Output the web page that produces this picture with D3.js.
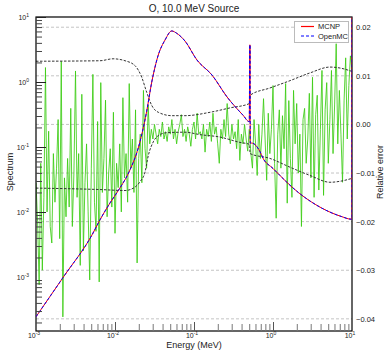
<!DOCTYPE html>
<html>
<head>
<meta charset="utf-8">
<script src="https://cdn.jsdelivr.net/npm/d3@7"></script>
<style>
  body { margin: 0; background: #fff; }
  svg { display: block; font-family: "Liberation Sans", Arial, sans-serif; }
</style>
</head>
<body>
<svg id="chart" width="386" height="355"></svg>
<script>
// spectrum, energy in MeV
const specEnergy = [0.001, 0.00222, 0.00513, 0.00646, 0.00865, 0.0110, 0.0155, 0.0197, 0.0251, 0.0292,
  0.0353, 0.0430, 0.0522, 0.0604, 0.0769, 0.109, 0.169, 0.262, 0.417, 0.501,
  0.508, 0.513, 0.515, 0.537, 0.684, 0.746, 1.0, 2.09, 4.14, 7.41, 9.77, 9.99, 10];
const mcnpSpectrum = [2.45e-4, 1.0e-3, 4.47e-3, 7.6e-3, 1.38e-2, 0.0214, 0.0447, 0.0966, 0.347, 1.0,
  2.60, 4.43, 6.10, 5.62, 4.27, 2.18, 1.28, 0.589, 0.309, 0.245,
  3.72, 3.72, 0.115, 0.115, 0.085, 0.0676, 0.0468, 0.0200, 0.0115, 0.0085, 0.00776, 0.00776, 40];
const openmcSpectrum = [2.45e-4, 1.0e-3, 4.47e-3, 7.6e-3, 1.38e-2, 0.0214, 0.0447, 0.0966, 0.347, 1.0,
  2.60, 4.43, 6.10, 5.62, 4.27, 2.18, 1.28, 0.589, 0.309, 0.245,
  3.72, 3.72, 0.115, 0.115, 0.085, 0.0676, 0.0468, 0.0200, 0.0115, 0.0085, 0.00776, 0.00776, 40];

// statistical uncertainty band (right axis)
const upperEnergy = [0.001, 0.00646, 0.00944, 0.0134, 0.0179, 0.0218, 0.0252, 0.0292, 0.0353, 0.0522,
  0.0769, 0.160, 0.286, 0.505, 0.513, 0.916, 1.64, 2.94, 5.27, 7.05, 10];
const upperSigma = [0.0130, 0.0131, 0.0135, 0.0131, 0.0121, 0.0097, 0.0066, 0.0039, 0.0025, 0.0018,
  0.0018, 0.0025, 0.0034, 0.0043, 0.0060, 0.0075, 0.0090, 0.0106, 0.0118, 0.0116, 0.0109];
const lowerEnergy = [0.001, 0.00646, 0.0134, 0.0179, 0.0207, 0.0240, 0.0264, 0.0305, 0.0353, 0.0451,
  0.0769, 0.119, 0.213, 0.382, 0.505, 0.513, 0.916, 1.64, 2.94, 5.27, 7.05, 10];
const lowerSigma = [-0.0131, -0.0134, -0.0136, -0.0129, -0.0118, -0.0098, -0.0064, -0.0036, -0.0023, -0.0017,
  -0.0016, -0.0021, -0.0026, -0.0037, -0.0041, -0.0060, -0.0070, -0.0088, -0.0105, -0.0119, -0.0117, -0.0111];

// relative error per bin, bins at log10(E) = -3, -2.98, ... 1
const relError = [
  -0.012, -0.020, -0.033, -0.008, -0.030, -0.015, 0.0117, -0.018, -0.0014, -0.021,
  -0.0244, -0.006, -0.016, -0.009, 0.001, -0.0235, 0.013, -0.0396, -0.011, -0.019,
  -0.007, -0.017, 0.0033, -0.021, -0.010, 0.011, -0.015, -0.006, -0.029, 0.0062,
  -0.026, -0.012, -0.004, -0.018, -0.032, -0.009, 0.0103, -0.016, -0.022, 0.0006,
  -0.0324, 0.0086, -0.014, -0.007, 0.005, -0.019, -0.010, -0.005, -0.017, 0.0025,
  -0.0224, -0.008, -0.013, -0.004, -0.018, 0.0055, -0.011, -0.006, -0.016, 0.0084,
  -0.009, -0.003, -0.014, 0.003, -0.0285, -0.007, -0.002, -0.012, 0.007, -0.005,
  -0.009, 0.004, -0.004, -0.001, -0.003, 0.000, -0.002, -0.004, -0.001, -0.0025,
  0.0005, -0.003, -0.0015, -0.0035, -0.0005, -0.002, 0.001, -0.003, -0.001, -0.004,
  -0.0015, 0.000, 0.002, -0.0025, -0.001, -0.0035, -0.0005, -0.002, -0.0045, -0.001,
  0.0005, -0.003, 0.0023, -0.002, -0.0015, -0.003, 0.000, -0.0057, -0.001, -0.0025,
  0.0005, -0.0035, 0.0023, -0.002, -0.0005, -0.004, -0.008, -0.001, -0.003, 0.001,
  -0.0025, 0.0043, -0.002, -0.004, 0.000, -0.003, -0.0015, -0.005, 0.001, -0.0074,
  -0.002, -0.004, 0.000, -0.003, -0.0055, -0.001, -0.006, -0.009, 0.001, -0.004,
  -0.0105, 0.000, -0.007, -0.002, 0.0053, -0.003, -0.0115, 0.0023, -0.006, -0.001,
  0.0080, -0.008, -0.0193, -0.002, 0.003, -0.009, 0.0018, -0.005, 0.0084, -0.0162,
  0.0049, -0.007, -0.015, 0.0070, -0.004, 0.0043, -0.010, -0.002, -0.021, 0.001,
  0.0033, -0.008, -0.003, 0.0064, -0.011, 0.0097, -0.015, 0.002, 0.0060, -0.0135,
  -0.001, 0.0111, -0.0146, 0.003, 0.0086, -0.008, 0.001, 0.0111, -0.006, 0.004,
  0.0166, -0.004, 0.007, -0.002, -0.0119, 0.005, 0.0137, -0.003, 0.008, 0.0141,
  0.0111
];
const relErrorEnergy = relError.map((d, i) => Math.pow(10, -3 + i * 0.02));

const rightTicks = [0.02, 0.01, 0.0, -0.01, -0.02, -0.03, -0.04];
const decadeTicks = [1e-3, 1e-2, 1e-1, 1, 10];

const margin = { top: 17, right: 34, bottom: 24, left: 36 };
const width = 386;
const height = 355;

const svg = d3.select('#chart');
svg.append('rect').attr('width', width).attr('height', height).attr('fill', '#fff');

const x = d3.scaleLog()
  .domain([1e-3, 10])
  .range([margin.left, width - margin.right]);

const yLeft = d3.scaleLog()
  .domain([Math.pow(10, -3.83), 10])
  .range([height - margin.bottom, margin.top]);

const yRight = d3.scaleLinear()
  .domain([-0.0425, 0.0221])
  .range([height - margin.bottom, margin.top]);

const plotW = width - margin.left - margin.right;
const plotH = height - margin.top - margin.bottom;

svg.append('clipPath').attr('id', 'plot-clip')
  .append('rect')
  .attr('x', margin.left)
  .attr('y', margin.top)
  .attr('width', plotW)
  .attr('height', plotH);

// grid lines at right axis ticks
svg.append('g')
  .selectAll('line')
  .data(rightTicks)
  .join('line')
  .attr('x1', margin.left)
  .attr('x2', width - margin.right)
  .attr('y1', d => yRight(d))
  .attr('y2', d => yRight(d))
  .attr('stroke', '#c4c4c4')
  .attr('stroke-width', 1)
  .attr('stroke-dasharray', '3,2');

const plot = svg.append('g').attr('clip-path', 'url(#plot-clip)');

// relative error
const errLine = d3.line()
  .x((d, i) => x(relErrorEnergy[i]))
  .y(d => yRight(d));

plot.append('path')
  .datum(relError)
  .attr('fill', 'none')
  .attr('stroke', '#3ccc14')
  .attr('stroke-width', 1)
  .attr('stroke-opacity', 0.85)
  .attr('d', errLine);

// uncertainty band
const bandLine = energies => d3.line()
  .x((d, i) => x(energies[i]))
  .y(d => yRight(d))
  .curve(d3.curveMonotoneX);

plot.append('path')
  .datum(upperSigma)
  .attr('fill', 'none')
  .attr('stroke', '#333')
  .attr('stroke-width', 1)
  .attr('stroke-dasharray', '2.5,1.5')
  .attr('d', bandLine(upperEnergy));

plot.append('path')
  .datum(lowerSigma)
  .attr('fill', 'none')
  .attr('stroke', '#333')
  .attr('stroke-width', 1)
  .attr('stroke-dasharray', '2.5,1.5')
  .attr('d', bandLine(lowerEnergy));

// frame
svg.append('rect')
  .attr('x', margin.left)
  .attr('y', margin.top)
  .attr('width', plotW)
  .attr('height', plotH)
  .attr('fill', 'none')
  .attr('stroke', '#000')
  .attr('stroke-width', 1.2);

// spectra
const specLine = d3.line()
  .x((d, i) => x(specEnergy[i]))
  .y(d => yLeft(d))
  .curve(d3.curveMonotoneX);

const specClip = svg.append('g').attr('clip-path', 'url(#plot-clip)');

specClip.append('path')
  .datum(mcnpSpectrum)
  .attr('fill', 'none')
  .attr('stroke', '#ff0000')
  .attr('stroke-width', 1)
  .attr('d', specLine);

specClip.append('path')
  .datum(openmcSpectrum)
  .attr('fill', 'none')
  .attr('stroke', '#0000ff')
  .attr('stroke-width', 1)
  .attr('stroke-dasharray', '3,2')
  .attr('d', specLine);

// left axis ticks (inside)
const minorLeft = [];
for (let e = -4; e <= 0; e++) {
  for (let k = 2; k <= 9; k++) {
    const v = k * Math.pow(10, e);
    if (v >= yLeft.domain()[0] && v <= 10) minorLeft.push(v);
  }
}
const minorX = [];
for (let e = -3; e <= 0; e++) {
  for (let k = 2; k <= 9; k++) minorX.push(k * Math.pow(10, e));
}

svg.append('g')
  .attr('transform', `translate(${margin.left},0)`)
  .call(d3.axisRight(yLeft).tickValues(minorLeft).tickSize(6).tickFormat(''))
  .call(g => g.select('.domain').remove())
  .call(g => g.selectAll('line').attr('stroke', '#444'));

svg.append('g')
  .attr('transform', `translate(${margin.left},0)`)
  .call(d3.axisRight(yLeft).tickValues(decadeTicks.slice(1)).tickSize(10).tickFormat(''))
  .call(g => g.select('.domain').remove())
  .call(g => g.selectAll('line').attr('stroke', '#222'));

// bottom axis ticks (inside)
svg.append('g')
  .attr('transform', `translate(0,${height - margin.bottom})`)
  .call(d3.axisTop(x).tickValues(minorX).tickSize(7).tickFormat(''))
  .call(g => g.select('.domain').remove())
  .call(g => g.selectAll('line').attr('stroke', '#777'));

svg.append('g')
  .attr('transform', `translate(0,${height - margin.bottom})`)
  .call(d3.axisTop(x).tickValues(decadeTicks.slice(1, 4)).tickSize(9).tickFormat(''))
  .call(g => g.select('.domain').remove())
  .call(g => g.selectAll('line').attr('stroke', '#555'));

// power-of-ten labels
const expOf = d => Math.round(Math.log10(d));

const leftLabels = svg.append('g')
  .selectAll('text')
  .data(decadeTicks)
  .join('text')
  .attr('x', 29)
  .attr('y', d => yLeft(d) + 2.5)
  .attr('text-anchor', 'end')
  .attr('font-size', 7)
  .attr('fill', '#222')
  .text('10');
leftLabels.append('tspan')
  .attr('dy', -3)
  .attr('font-size', 5)
  .text(d => expOf(d));

const bottomLabels = svg.append('g')
  .selectAll('text')
  .data(decadeTicks)
  .join('text')
  .attr('x', d => x(d) - 2)
  .attr('y', 338)
  .attr('text-anchor', 'middle')
  .attr('font-size', 7)
  .attr('fill', '#222')
  .text('10');
bottomLabels.append('tspan')
  .attr('dy', -3)
  .attr('font-size', 5)
  .text(d => expOf(d));

// right axis labels
svg.append('g')
  .attr('transform', `translate(${width - margin.right},0)`)
  .call(d3.axisRight(yRight).tickValues(rightTicks).tickSize(0).tickPadding(4).tickFormat(d3.format('.2f')))
  .call(g => g.select('.domain').remove())
  .call(g => g.selectAll('text').attr('font-size', 7.5).attr('fill', '#222')
    .attr('font-family', '"Liberation Sans", Arial, sans-serif'));

// titles
svg.append('text')
  .attr('x', 194)
  .attr('y', 12)
  .attr('text-anchor', 'middle')
  .attr('font-size', 10)
  .attr('fill', '#222')
  .text('O, 10.0 MeV Source');

svg.append('text')
  .attr('x', 194)
  .attr('y', 348)
  .attr('text-anchor', 'middle')
  .attr('font-size', 9)
  .attr('fill', '#222')
  .text('Energy (MeV)');

svg.append('text')
  .attr('transform', 'translate(13,172) rotate(-90)')
  .attr('text-anchor', 'middle')
  .attr('font-size', 9)
  .attr('fill', '#222')
  .text('Spectrum');

svg.append('text')
  .attr('transform', 'translate(383,172) rotate(-90)')
  .attr('text-anchor', 'middle')
  .attr('font-size', 9)
  .attr('fill', '#222')
  .text('Relative error');

// legend
const legend = svg.append('g');
legend.append('rect')
  .attr('x', 294.5)
  .attr('y', 21.5)
  .attr('width', 54)
  .attr('height', 21)
  .attr('fill', '#fff')
  .attr('stroke', '#bbb');

const legendItems = [
  { name: 'MCNP', color: '#ff0000', dash: null },
  { name: 'OpenMC', color: '#0000ff', dash: '3,2' }
];
legendItems.forEach((d, i) => {
  const ly = 26.5 + i * 9.5;
  legend.append('line')
    .attr('x1', 301).attr('x2', 314)
    .attr('y1', ly).attr('y2', ly)
    .attr('stroke', d.color)
    .attr('stroke-width', 1.2)
    .attr('stroke-dasharray', d.dash);
  legend.append('text')
    .attr('x', 318)
    .attr('y', ly + 2.7)
    .attr('font-size', 7.5)
    .attr('fill', '#222')
    .text(d.name);
});
</script>
</body>
</html>
